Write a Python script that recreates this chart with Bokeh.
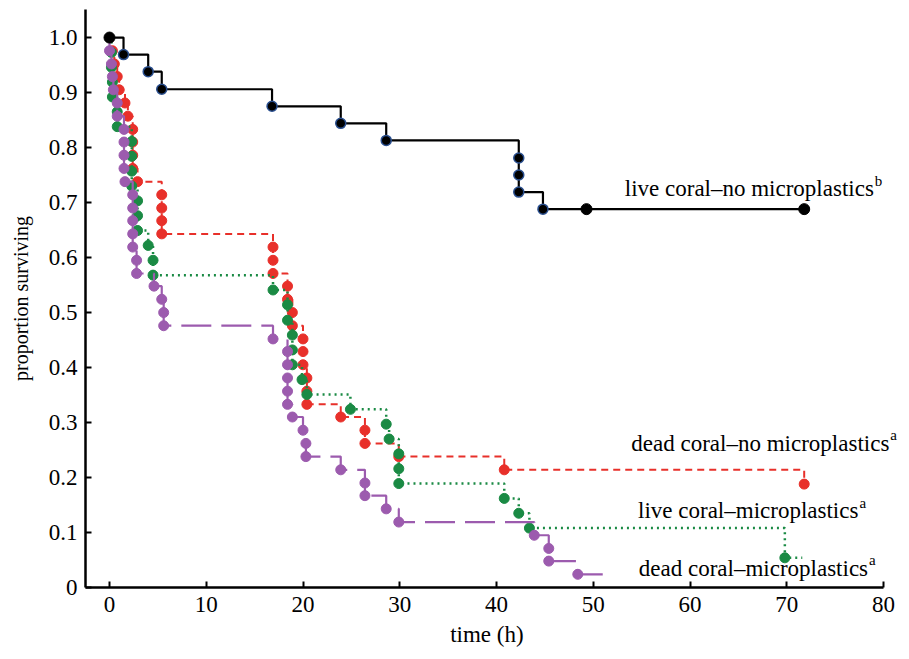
from bokeh.plotting import figure
from bokeh.models import Label, FixedTicker, Range1d
from bokeh.embed import file_html
from bokeh.resources import INLINE

# ---------------- data ----------------
black_t = [1.45, 4.0, 5.4, 16.8, 23.9, 28.6, 42.3, 42.3, 42.3, 44.8]
black_s = [0.969, 0.938, 0.906, 0.875, 0.844, 0.813, 0.781, 0.750, 0.719, 0.688]
black_censor_t = [49.3, 71.8]
black_censor_s = [0.688, 0.688]
black_end = 71.8

red_t = [0.3, 0.5, 0.8, 1.0, 1.6, 1.9, 2.4, 2.4, 2.4, 2.4, 2.9, 5.4, 5.4, 5.4, 5.4,
         16.9, 16.9, 16.9, 18.4, 18.4, 18.9, 18.9, 20.0, 20.0, 20.0, 20.4, 20.4, 20.4,
         23.9, 26.4, 26.4, 29.9, 40.8, 71.8]
red_s = [0.976, 0.952, 0.929, 0.905, 0.881, 0.857, 0.833, 0.810, 0.786, 0.762, 0.738,
         0.714, 0.690, 0.667, 0.643, 0.619, 0.595, 0.571, 0.548, 0.524, 0.500, 0.476,
         0.452, 0.429, 0.405, 0.381, 0.357, 0.333, 0.310, 0.286, 0.262, 0.238, 0.214, 0.188]
red_end = 71.8

green_t = [0.2, 0.2, 0.3, 0.3, 0.8, 0.8, 2.3, 2.3, 2.3, 2.3, 2.9, 2.9, 2.9, 4.0, 4.5, 4.5,
           16.9, 18.4, 18.4, 18.9, 18.9, 18.9, 19.9, 20.4, 24.9, 28.6, 28.9, 29.9, 29.9, 29.9,
           40.8, 42.3, 43.4, 69.8]
green_s = [0.973, 0.946, 0.919, 0.892, 0.865, 0.838, 0.811, 0.784, 0.757, 0.730, 0.703,
           0.676, 0.649, 0.622, 0.595, 0.568, 0.541, 0.514, 0.486, 0.459, 0.432, 0.405,
           0.378, 0.351, 0.324, 0.297, 0.270, 0.243, 0.216, 0.189, 0.162, 0.135, 0.108, 0.054]
green_end = 71.6

purple_t = [0.0, 0.2, 0.3, 0.4, 0.8, 0.8, 1.5, 1.5, 1.5, 1.5, 1.6, 2.4, 2.4, 2.4, 2.4, 2.4,
            2.8, 2.8, 4.6, 5.4, 5.6, 5.6, 16.9, 18.4, 18.4, 18.4, 18.4, 18.4, 18.9, 20.0,
            20.3, 20.3, 23.9, 26.4, 26.4, 28.6, 29.9, 43.9, 45.4, 45.4, 48.4]
purple_s = [0.976, 0.952, 0.929, 0.905, 0.881, 0.857, 0.833, 0.810, 0.786, 0.762, 0.738,
            0.714, 0.690, 0.667, 0.643, 0.619, 0.595, 0.571, 0.548, 0.524, 0.500, 0.476,
            0.452, 0.429, 0.405, 0.381, 0.357, 0.333, 0.310, 0.286, 0.262, 0.238, 0.214,
            0.190, 0.167, 0.143, 0.119, 0.095, 0.071, 0.048, 0.024]
purple_end = 51.0

x_ticks = [0, 10, 20, 30, 40, 50, 60, 70, 80]
y_ticks = [0, 0.1, 0.2, 0.3, 0.4, 0.5, 0.6, 0.7, 0.8, 0.9, 1.0]
y_tick_labels = ["0", "0.1", "0.2", "0.3", "0.4", "0.5", "0.6", "0.7", "0.8", "0.9", "1.0"]

series_labels = ["live coral\u2013no microplastics", "dead coral\u2013no microplastics",
                 "live coral\u2013microplastics", "dead coral\u2013microplastics"]
series_sups = ["b", "a", "a", "a"]
label_x = [79.0, 80.6, 77.4, 78.4]
label_y = [0.725, 0.262, 0.140, 0.035]

# ---------------- style ----------------
FONT = "Liberation Serif"
BLACK = "#000000"
RED = "#E8302A"
GREEN = "#1A8A44"
PURPLE = "#9C5BAE"

X_START = -2.48
X_AXIS_END = 80


def km_path(ts, ss, end):
    xs, ys = [0.0], [1.0]
    prev = 1.0
    for t, s in zip(ts, ss):
        xs += [t, t]
        ys += [prev, s]
        prev = s
    if end > xs[-1]:
        xs.append(end)
        ys.append(prev)
    return xs, ys


p = figure(width=907, height=655, output_backend="svg", toolbar_location=None,
           x_range=Range1d(X_START, 82.27), y_range=Range1d(0, 1.051),
           min_border_left=85, min_border_right=2, min_border_top=9, min_border_bottom=68)
p.outline_line_color = None
p.grid.visible = False
p.background_fill_color = "white"
p.border_fill_color = "white"

for ax in (p.xaxis[0], p.yaxis[0]):
    ax.axis_line_width = 2.5
    ax.axis_line_color = "black"
    ax.major_tick_line_width = 2
    ax.major_tick_line_color = "black"
    ax.major_tick_in = 6
    ax.major_tick_out = 0
    ax.minor_tick_line_color = None
    ax.major_label_text_font = FONT
    ax.major_label_text_font_size = "23px"
    ax.major_label_text_color = "black"
    ax.axis_label_text_font = FONT
    ax.axis_label_text_font_style = "normal"
    ax.axis_label_text_color = "black"

p.xaxis.axis_label_text_font_size = "23px"
p.yaxis.axis_label_text_font_size = "20px"
p.xaxis.bounds = (X_START, X_AXIS_END)
p.xaxis.ticker = FixedTicker(ticks=x_ticks)
p.yaxis.ticker = FixedTicker(ticks=y_ticks)
p.yaxis.major_label_overrides = {t: l for t, l in zip(y_ticks, y_tick_labels)}
p.xaxis.axis_label = "time (h)" + "\u00a0" * 3
p.yaxis.axis_label = "proportion surviving"
p.xaxis.major_label_standoff = 9
p.yaxis.major_label_standoff = 8
p.xaxis.axis_label_standoff = 7
p.yaxis.axis_label_standoff = 14

# red (dead coral - no microplastics)
rx, ry = km_path(red_t, red_s, red_end)
p.line(rx, ry, line_color=RED, line_width=2, line_dash="7 5")
p.scatter(red_t, red_s, size=10, fill_color=RED, line_color=RED)

# green (live coral - microplastics)
gx, gy = km_path(green_t, green_s, green_end)
p.line(gx, gy, line_color=GREEN, line_width=2.5, line_dash="2 4")
p.scatter(green_t, green_s, size=10, fill_color=GREEN, line_color=GREEN)

# purple (dead coral - microplastics)
px_, py_ = km_path(purple_t, purple_s, purple_end)
p.line(px_, py_, line_color=PURPLE, line_width=2.2, line_dash="30 10")
p.scatter(purple_t, purple_s, size=10, fill_color=PURPLE, line_color=PURPLE)

# black (live coral - no microplastics)
bx, by = km_path(black_t, black_s, black_end)
p.line(bx, by, line_color=BLACK, line_width=2.2)
p.scatter(black_t, black_s, size=10, fill_color=BLACK, line_color="#2A4F8F", line_width=1.5)
p.scatter([0.0] + black_censor_t, [1.0] + black_censor_s, size=11, fill_color=BLACK, line_color=BLACK)

for text, sup, lx, ly in zip(series_labels, series_sups, label_x, label_y):
    p.add_layout(Label(x=lx, y=ly, text=text, text_align="right", text_baseline="middle",
                       text_font=FONT, text_font_size="23px", text_color="black"))
    p.add_layout(Label(x=lx, y=ly, text=sup, text_align="left", text_baseline="middle",
                       x_offset=1, y_offset=8,
                       text_font=FONT, text_font_size="15px", text_color="black"))

open("out.html", "w").write(file_html(p, INLINE))
